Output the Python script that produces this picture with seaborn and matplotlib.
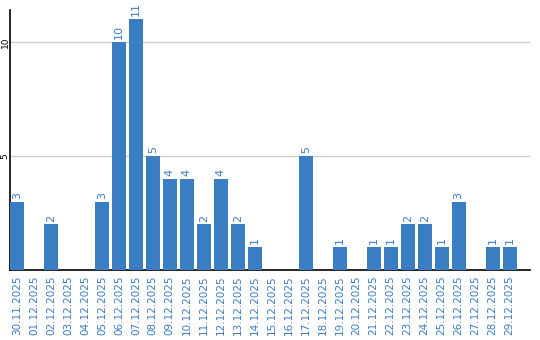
import matplotlib
matplotlib.use("Agg")
import matplotlib.pyplot as plt
import seaborn as sns
import pandas as pd

dates = ["30.11.2025", "01.12.2025", "02.12.2025", "03.12.2025", "04.12.2025",
         "05.12.2025", "06.12.2025", "07.12.2025", "08.12.2025", "09.12.2025",
         "10.12.2025", "11.12.2025", "12.12.2025", "13.12.2025", "14.12.2025",
         "15.12.2025", "16.12.2025", "17.12.2025", "18.12.2025", "19.12.2025",
         "20.12.2025", "21.12.2025", "22.12.2025", "23.12.2025", "24.12.2025",
         "25.12.2025", "26.12.2025", "27.12.2025", "28.12.2025", "29.12.2025"]
values = [3, 0, 2, 0, 0, 3, 10, 11, 5, 4, 4, 2, 4, 2, 1,
          0, 0, 5, 0, 1, 0, 1, 1, 2, 2, 1, 3, 0, 1, 1]
yticks = [5, 10]

BLUE = "#3b7dc3"
TEXT_BLUE = "#3a7cc2"

df = pd.DataFrame({"date": dates, "value": values})

sns.set_style("white")
plt.rcParams['font.family'] = ['DejaVu Sans']

fig = plt.figure(figsize=(5.4, 3.4), dpi=100)
ax = fig.add_axes([10/540, 70/340, 520/540, 260/340])

sns.barplot(data=df, x="date", y="value", color=BLUE, width=0.82,
            saturation=1, linewidth=0, edgecolor="none", ax=ax, zorder=3)

ax.set_xlim(-0.41, 30.2)
ax.set_ylim(0, 11.4)
ax.set_yticks(yticks)
ax.set_yticklabels([str(t) for t in yticks], rotation=90, fontsize=6.5,
                   va="center", ha="center", color="black")
ax.grid(axis="y", color="#cccccc", linewidth=1, zorder=0)
ax.set_axisbelow(True)

ax.tick_params(axis="y", length=0, pad=3.6)
ax.tick_params(axis="x", length=0, pad=4)
ax.set_xticks(range(len(dates)))
ax.set_xticklabels(dates, rotation=90, fontsize=7.5, color=TEXT_BLUE,
                   va="top", ha="center")
ax.set_xlabel("")
ax.set_ylabel("")

for s in ["top", "right"]:
    ax.spines[s].set_visible(False)
for s in ["left", "bottom"]:
    ax.spines[s].set_color("black")
    ax.spines[s].set_linewidth(1.2)

container = ax.containers[0]
labels = [str(v) if v > 0 else "" for v in values]
ax.bar_label(container, labels=labels, rotation=90, padding=2,
             fontsize=8, color=TEXT_BLUE)

fig.savefig("out.png", dpi=100)
